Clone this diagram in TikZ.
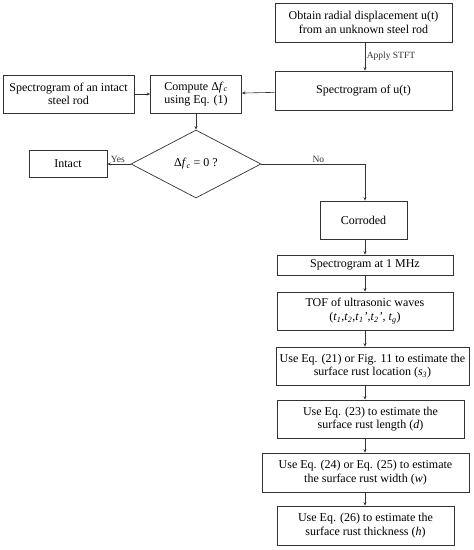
\documentclass[tikz,border=0pt]{standalone}
\usepackage{fontspec}
\setmainfont{Liberation Serif}
\usepackage{tikz}
\usetikzlibrary{positioning,arrows.meta,shapes.geometric,calc}
\colorlet{linedraw}{black!80}
\newcommand{\var}[2]{\textit{#1}\textsubscript{\textit{#2}}}
\begin{document}
\begin{tikzpicture}[x=1pt,y=-1pt,every node/.style={font=\fontsize{12}{13.5}\selectfont},
    stepbox/.style={draw=linedraw,line width=.7pt,inner sep=0pt,align=center},
    flow/.style={-{Stealth[length=3.5pt,width=3pt]},line width=.6pt,linedraw},
    tag/.style={font=\fontsize{9.5}{10}\selectfont,inner sep=1.5pt}]
    \useasboundingbox (0,0) rectangle (474,550);
    \coordinate (spine) at (365,0);
    \node[stepbox,minimum width=177pt,minimum height=39pt] (obtain) at (363.5,22.5) {Obtain radial displacement u(t)\\from an unknown steel rod};
    \node[stepbox,minimum width=177pt,minimum height=39pt] (specu) at (363.5,90.5) {Spectrogram of u(t)};
    \node[stepbox,minimum width=91pt,minimum height=38pt] (compute) at (196,94) {Compute Δ\var{f}{c}\\using Eq. (1)};
    \node[stepbox,minimum width=131pt,minimum height=38pt] (intspec) at (68.5,94) {Spectrogram of an intact\\steel rod};
    \node[draw=linedraw,line width=.7pt,diamond,inner sep=0pt,minimum width=130pt,minimum height=68pt] (check) at (196,164) {Δ\var{f}{c} = 0 ?};
    \node[stepbox,minimum width=78pt,minimum height=27pt] (intact) at (68,164) {Intact};
    \node[stepbox,minimum width=87pt,minimum height=38pt] (corroded) at (363.5,220) {Corroded};
    \node[stepbox,minimum width=176pt,minimum height=20pt] (spec1m) at (365,265) {Spectrogram at 1 MHz};
    \node[stepbox,minimum width=176pt,minimum height=38pt] (tof) at (365,311) {TOF of ultrasonic waves\\(\var{t}{1},\var{t}{2},\var{t}{1}\textit{'},\var{t}{2}\textit{'}, \var{t}{g})};
    \node[stepbox,minimum width=193pt,minimum height=38pt] (loc) at (372.5,366) {Use Eq. (21) or Fig. 11 to estimate the\\surface rust location (\var{s}{3})};
    \node[stepbox,minimum width=187pt,minimum height=38pt] (len) at (370.5,419) {Use Eq. (23) to estimate the\\surface rust length (\textit{d})};
    \node[stepbox,minimum width=207pt,minimum height=39pt] (wid) at (365.5,472.5) {Use Eq. (24) or Eq. (25) to estimate\\the surface rust width (\textit{w})};
    \node[stepbox,minimum width=177pt,minimum height=39pt] (thick) at (365.5,525.5) {Use Eq. (26) to estimate the\\surface rust thickness (\textit{h})};
    \draw[flow] (obtain.south -| spine) -- node[tag,right] (stft) {Apply STFT} (specu.north -| spine);
    \draw[flow] (specu) -- (compute);
    \draw[flow] (intspec) -- (compute);
    \draw[flow] (compute) -- (check);
    \draw[flow] (check) -- node[tag,above,pos=.55] (yes) {Yes} (intact);
    \draw[flow] (check.east) -- node[tag,above,pos=.55] (no) {No} (check.east -| spine) -- (corroded.north -| spine);
    \draw[flow] (corroded.south -| spine) -- (spec1m.north -| spine);
    \draw[flow] (spec1m.south -| spine) -- (tof.north -| spine);
    \draw[flow] (tof.south -| spine) -- (loc.north -| spine);
    \draw[flow] (loc.south -| spine) -- (len.north -| spine);
    \draw[flow] (len.south -| spine) -- (wid.north -| spine);
    \draw[flow] (wid.south -| spine) -- (thick.north -| spine);
  \end{tikzpicture}
\end{document}
